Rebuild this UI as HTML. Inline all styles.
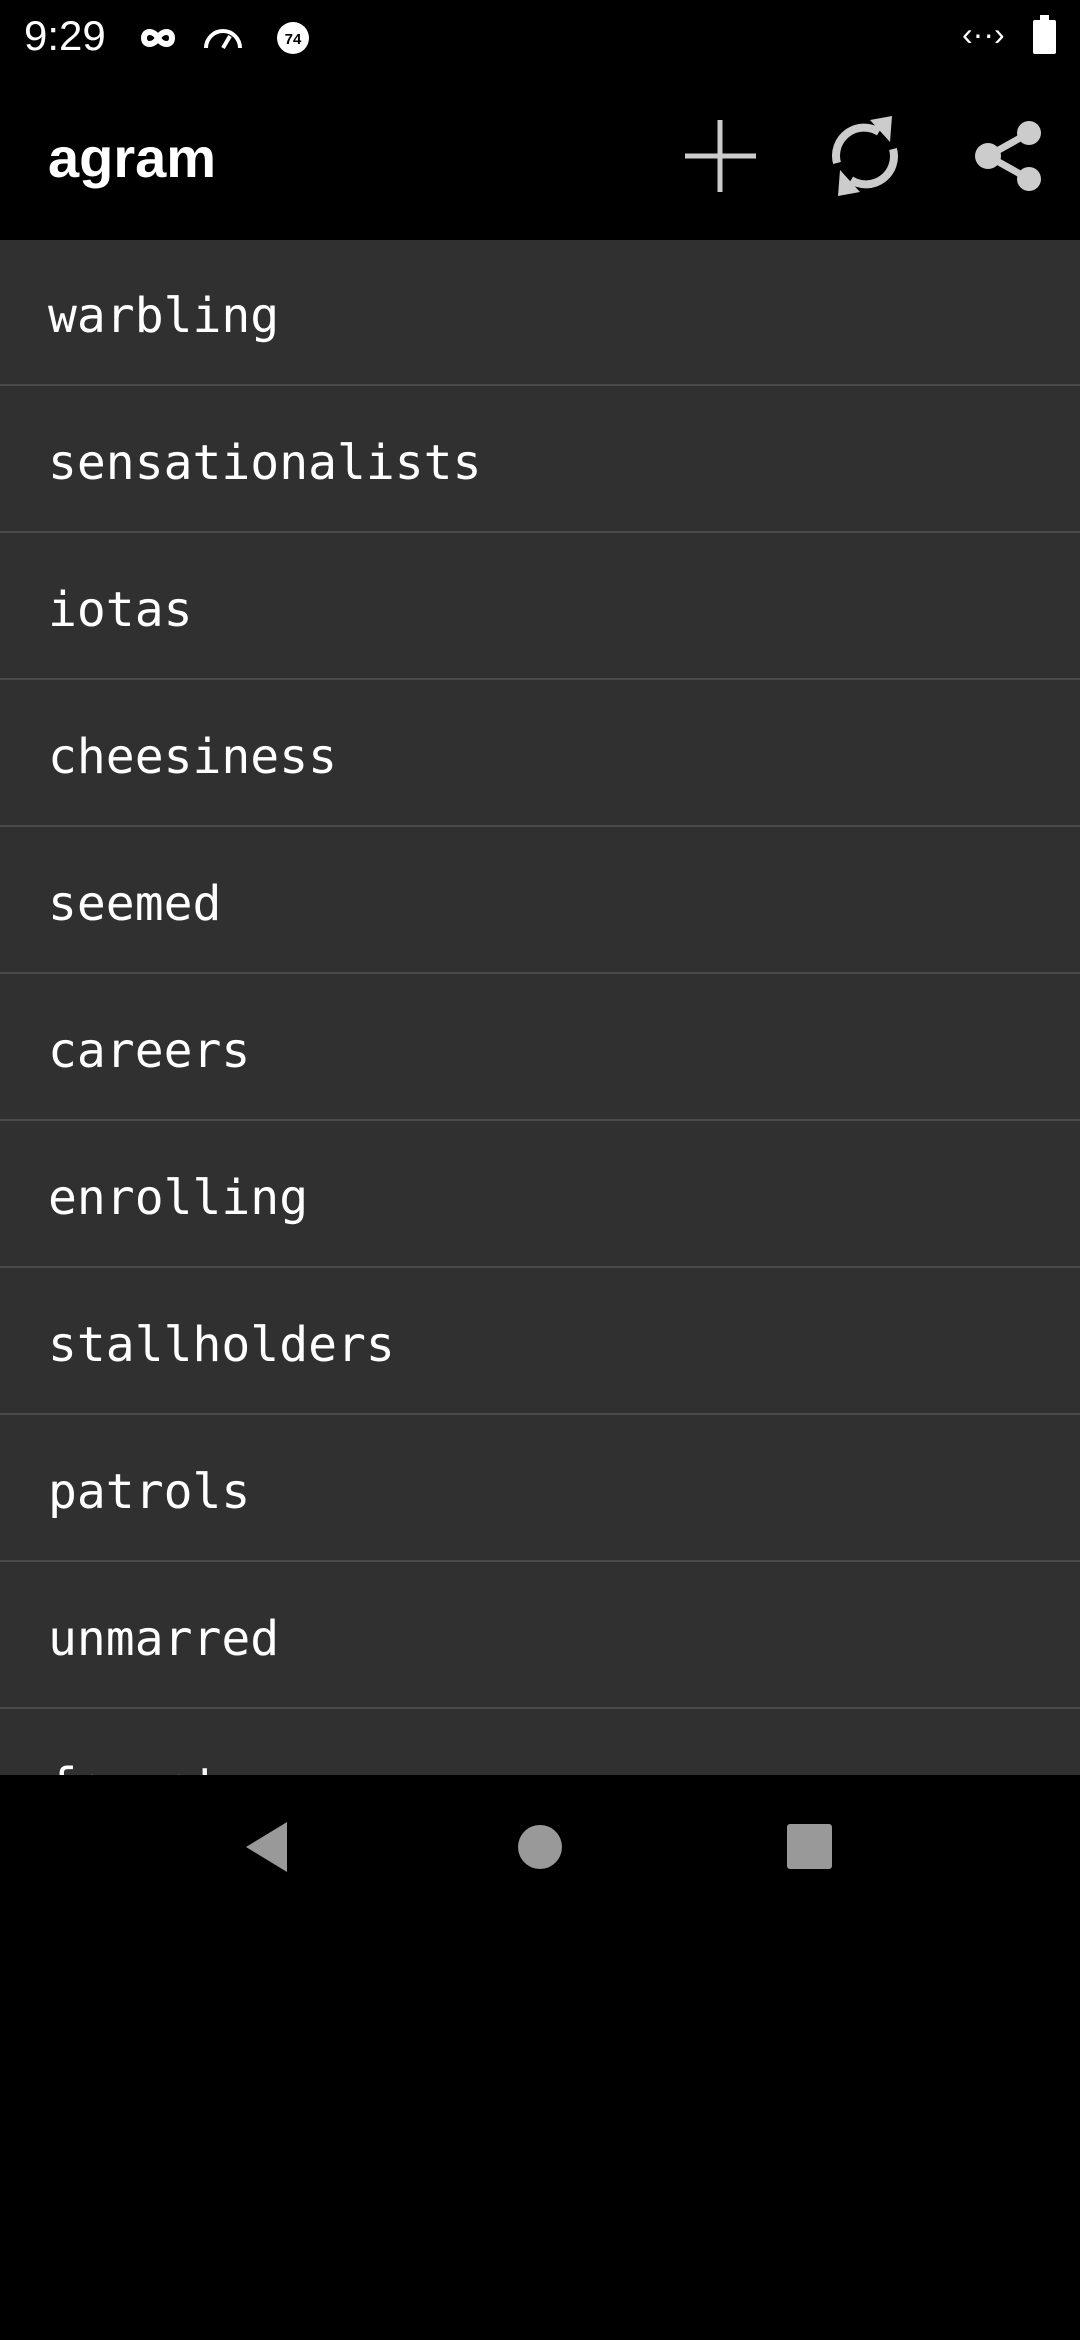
<!DOCTYPE html>
<html><head><meta charset="utf-8"><style>
html,body{margin:0;padding:0;background:#000;width:1080px;height:2340px;overflow:hidden;position:relative;font-family:"Liberation Sans",sans-serif}
.abs{position:absolute}
.row{position:absolute;left:0;width:1080px;height:146px;background:#303030;border-bottom:2px solid #4a4a4a;box-sizing:border-box}
.row span{position:absolute;left:48px;top:46px;font-family:"DejaVu Sans Mono","Liberation Mono",monospace;font-size:48px;color:#fff;line-height:60px}
</style></head><body>
<div class="abs" style="left:24px;top:10px;font-size:42px;color:#fff;line-height:52px">9:29</div>
<svg class="abs" style="left:140px;top:20px" width="180" height="36" viewBox="0 0 180 36">
<path d="M4 18c0-8 10-8 14 0c4 8 14 8 14 0c0-8-10-8-14 0c-4 8-14 8-14 0z" fill="none" stroke="#fff" stroke-width="6"/>
<path d="M66 28a17 17 0 0 1 34 0" fill="none" stroke="#fff" stroke-width="4"/><line x1="83" y1="28" x2="90" y2="16" stroke="#fff" stroke-width="4"/>
<circle cx="153" cy="18" r="16" fill="#fff"/><text x="153" y="24" font-size="15" font-weight="bold" text-anchor="middle" fill="#000" font-family="Liberation Sans">74</text>
</svg>
<div class="abs" style="left:962px;top:16px;font-size:32px;color:#fff">‹··›</div>
<div class="abs" style="left:1033px;top:20px;width:23px;height:34px;background:#fff;border-radius:2px"></div>
<div class="abs" style="left:1040px;top:15px;width:9px;height:6px;background:#fff"></div>
<div class="abs" style="left:48px;top:125px;font-size:56px;font-weight:bold;color:#fff;line-height:66px">agram</div>
<svg class="abs" style="left:680px;top:110px" width="370" height="90" viewBox="680 110 370 90">
<line x1="720" y1="120" x2="720" y2="192" stroke="#ccc" stroke-width="5"/><line x1="685" y1="156" x2="756" y2="156" stroke="#ccc" stroke-width="5"/>
<path d="M879 132 A28 28 0 0 0 837 163" fill="none" stroke="#ccc" stroke-width="8"/>
<path d="M851 180 A28 28 0 0 0 893 149" fill="none" stroke="#ccc" stroke-width="8"/>
<polygon points="870,120 892,116 890,142" fill="#ccc"/><polygon points="860,192 838,196 840,170" fill="#ccc"/>
<line x1="988" y1="156" x2="1029" y2="133" stroke="#ccc" stroke-width="7"/><line x1="988" y1="156" x2="1029" y2="179" stroke="#ccc" stroke-width="7"/>
<circle cx="988" cy="156" r="13" fill="#ccc"/><circle cx="1029" cy="133" r="12" fill="#ccc"/><circle cx="1029" cy="179" r="12" fill="#ccc"/>
</svg>
<div class="abs" style="left:0;top:240px;width:1080px;height:1535px;background:#303030;overflow:hidden">
<div class="row" style="top:0"><span>warbling</span></div>
<div class="row" style="top:147px"><span>sensationalists</span></div>
<div class="row" style="top:294px"><span>iotas</span></div>
<div class="row" style="top:441px"><span>cheesiness</span></div>
<div class="row" style="top:588px"><span>seemed</span></div>
<div class="row" style="top:735px"><span>careers</span></div>
<div class="row" style="top:882px"><span>enrolling</span></div>
<div class="row" style="top:1029px"><span>stallholders</span></div>
<div class="row" style="top:1176px"><span>patrols</span></div>
<div class="row" style="top:1323px"><span>unmarred</span></div>
<div class="row" style="top:1470px"><span>ferret</span></div>
</div>
<svg class="abs" style="left:0;top:1800px" width="1080" height="100">
<polygon points="246,47 287,22 287,72" fill="#999"/>
<circle cx="540" cy="47" r="22" fill="#999"/>
<rect x="787" y="24" width="45" height="45" rx="3" fill="#999"/>
</svg>
</body></html>
